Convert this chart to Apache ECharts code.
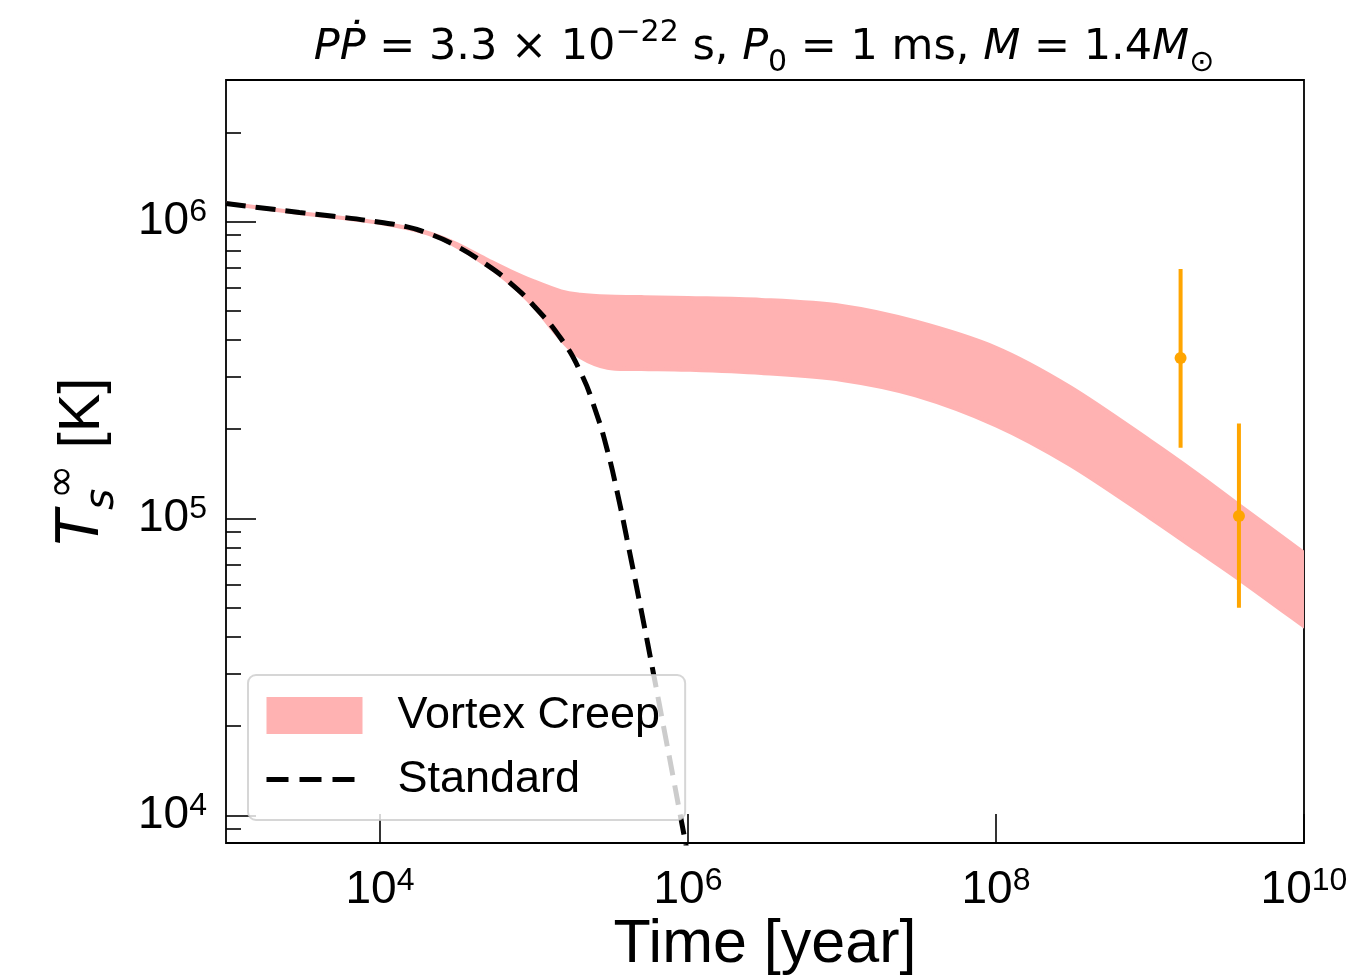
<!DOCTYPE html>
<html>
<head>
<meta charset="utf-8">
<script src="https://cdn.jsdelivr.net/npm/echarts@6.0.0/dist/echarts.min.js"></script>
<style>
  html, body { margin: 0; padding: 0; background: #fff; }
  #main { width: 1358px; height: 977px; }
</style>
</head>
<body>
<div id="main"></div>
<script>
// vortex creep band: both edges read on one time grid [year]
var bandTime  = [1e3, 3e3, 1e4, 2e4, 3e4, 5e4, 7e4, 1e5, 1.5e5, 2e5, 3e5, 5e5, 1e6, 3e6, 1e7, 3e7, 1e8, 3e8, 1e9, 2e9, 4e9, 1e10];
var bandUpper = [1.153e6, 1.07e6, 9.9e5, 9.2e5, 8.5e5, 7.43e5, 6.82e5, 6.29e5, 5.82e5, 5.67e5, 5.59e5, 5.57e5, 5.53e5, 5.45e5, 5.2e5, 4.61e5, 3.76e5, 2.78e5, 1.83e5, 1.42e5, 1.086e5, 7.65e4];
var bandLower = [1.153e6, 1.07e6, 9.9e5, 9.15e5, 8.36e5, 7.1e5, 6.2e5, 5.18e5, 4.01e5, 3.5e5, 3.22e5, 3.19e5, 3.17e5, 3.09e5, 2.93e5, 2.6e5, 2.06e5, 1.52e5, 1.006e5, 7.85e4, 6.12e4, 4.33e4];

// standard cooling curve
var stdTime = [1e3, 3e3, 5e3, 1e4, 1.5e4, 2e4, 3e4, 5e4, 7e4, 1e5, 1.5e5, 2e5, 2.5e5, 3e5, 3.5e5, 4e5, 5e5, 6e5, 7e5, 8e5, 9e5, 1e6, 1.2e6];
var stdTemp = [1.151e6, 1.074e6, 1.043e6, 9.95e5, 9.6e5, 9.18e5, 8.38e5, 7.12e5, 6.22e5, 5.2e5, 4.03e5, 3.12e5, 2.32e5, 1.69e5, 1.202e5, 8.61e4, 4.82e4, 2.96e4, 1.944e4, 1.35e4, 9.74e3, 7.32e3, 4.46e3];

// observed pulsars with error bars
var obsTime = [1.58e9, 3.78e9];
var obsTemp = [3.47e5, 1.02e5];
var obsLow  = [1.73e5, 5.0e4];
var obsHigh = [6.93e5, 2.09e5];

// tick values
var xMajorTicks = [1e4, 1e6, 1e8, 1e10];
var yMajorTicks = [1e4, 1e5, 1e6];
var yMinorTicks = [9e3, 2e4, 3e4, 4e4, 5e4, 6e4, 7e4, 8e4, 9e4, 2e5, 3e5, 4e5, 5e5, 6e5, 7e5, 8e5, 9e5, 2e6];

var bandColor = '#ffb2b2';
var obsColor = '#ffa500';
var sansFont = 'Liberation Sans';
var mathFont = 'DejaVu Sans';

function powLabel(v) {
  var e = Math.round(Math.log10(v));
  return '{b|10}{s|' + e + '}';
}

// catmull-rom through pixel points, returned as bezier segments
function curveThrough(pts) {
  var d = '';
  for (var i = 0; i < pts.length - 1; i++) {
    var p0 = pts[i - 1] || pts[i], p1 = pts[i], p2 = pts[i + 1], p3 = pts[i + 2] || p2;
    d += ' C' + (p1[0] + (p2[0] - p0[0]) / 6) + ',' + (p1[1] + (p2[1] - p0[1]) / 6) +
         ' ' + (p2[0] - (p3[0] - p1[0]) / 6) + ',' + (p2[1] - (p3[1] - p1[1]) / 6) +
         ' ' + p2[0] + ',' + p2[1];
  }
  return d;
}

var tickRich = {
  b: { fontFamily: sansFont, fontSize: 46, lineHeight: 50, color: '#000' },
  s: { fontFamily: sansFont, fontSize: 32, lineHeight: 30, verticalAlign: 'top', color: '#000' }
};

var chart = echarts.init(document.getElementById('main'));

chart.setOption({
  animation: false,
  title: {
    text: '{i|P}{i|Ṗ}{r| = 3.3 × 10}{sup|−22}{r| s, }{i|P}{sub|0}{r| = 1 ms, }{i|M}{r| = 1.4}{i|M}{sub|⊙}',
    left: 759,
    top: 13,
    textAlign: 'center',
    textStyle: {
      fontWeight: 'normal',
      rich: {
        r: { fontFamily: mathFont, fontWeight: 'normal', fontSize: 43, lineHeight: 60, color: '#000' },
        i: { fontFamily: mathFont, fontWeight: 'normal', fontStyle: 'italic', fontSize: 43, lineHeight: 60, color: '#000' },
        sup: { fontFamily: mathFont, fontWeight: 'normal', fontSize: 30, lineHeight: 34, verticalAlign: 'top', color: '#000' },
        sub: { fontFamily: mathFont, fontWeight: 'normal', fontSize: 30, lineHeight: 34, verticalAlign: 'bottom', color: '#000' }
      }
    }
  },
  legend: {
    orient: 'vertical',
    left: 248,
    top: 675,
    padding: [18, 25, 18, 16],
    itemGap: 19,
    itemWidth: 96,
    itemHeight: 37,
    selectedMode: false,
    backgroundColor: 'rgba(255,255,255,0.8)',
    borderColor: 'rgba(204,204,204,0.8)',
    borderWidth: 2,
    borderRadius: 8,
    textStyle: { fontFamily: sansFont, fontSize: 45, lineHeight: 37, color: '#000', padding: [0, 0, 0, 30] },
    data: [
      { name: 'Vortex Creep', icon: 'rect', itemStyle: { color: bandColor } },
      {
        name: 'Standard',
        itemStyle: { color: 'rgba(0,0,0,0)', opacity: 0, borderWidth: 0 },
        lineStyle: { color: '#000', width: 5, type: [22, 11] }
      }
    ]
  },
  grid: {
    left: 226, right: 54, top: 80, bottom: 134,
    show: true, borderColor: '#000', borderWidth: 1.8,
    outerBoundsMode: 'none'
  },
  xAxis: {
    type: 'log', logBase: 10, min: 1e3, max: 1e10,
    axisLine: { show: false },
    splitLine: { show: false },
    axisTick: { inside: true, length: 29, lineStyle: { color: '#000', width: 1.6 }, customValues: xMajorTicks },
    axisLabel: { customValues: xMajorTicks, formatter: powLabel, margin: 22, rich: tickRich },
    name: 'Time [year]',
    nameLocation: 'middle',
    nameGap: 72,
    nameMoveOverlap: false,
    nameTextStyle: { fontFamily: sansFont, fontSize: 61, color: '#000' }
  },
  yAxis: [
    {
      type: 'log', logBase: 10, min: 8.07e3, max: 3.0e6, position: 'left',
      axisLine: { show: false },
      splitLine: { show: false },
      axisTick: { inside: true, length: 30, lineStyle: { color: '#000', width: 1.6 }, customValues: yMajorTicks },
      axisLabel: { customValues: yMajorTicks, formatter: powLabel, margin: 19, rich: tickRich },
      name: '{t|T}{s|s}{inf|∞}{k| [K]}',
      nameLocation: 'middle',
      nameGap: 103,
      nameMoveOverlap: false,
      nameTextStyle: {
        rich: {
          t: { fontFamily: mathFont, fontStyle: 'italic', fontSize: 58, lineHeight: 80, color: '#000' },
          s: { fontFamily: mathFont, fontStyle: 'italic', fontSize: 41, lineHeight: 40, verticalAlign: 'bottom', color: '#000' },
          inf: { fontFamily: mathFont, fontSize: 41, lineHeight: 40, verticalAlign: 'top', padding: [0, 0, 0, -10], color: '#000' },
          k: { fontFamily: sansFont, fontSize: 58, lineHeight: 80, color: '#000' }
        }
      }
    },
    {
      // second axis only carries the minor ticks
      type: 'log', logBase: 10, min: 8.07e3, max: 3.0e6, position: 'left',
      axisLine: { show: false },
      splitLine: { show: false },
      axisLabel: { show: false },
      axisTick: { inside: true, length: 15, lineStyle: { color: '#000', width: 1.6 }, customValues: yMinorTicks }
    }
  ],
  series: [
    {
      type: 'custom',
      name: 'Vortex Creep',
      coordinateSystem: 'cartesian2d',
      clip: true,
      z: 2,
      itemStyle: { color: bandColor },
      data: [[bandTime[0], bandUpper[0]]],
      renderItem: function (params, api) {
        var up = [], low = [];
        for (var i = 0; i < bandTime.length; i++) {
          up.push(api.coord([bandTime[i], bandUpper[i]]));
        }
        for (var j = bandTime.length - 1; j >= 0; j--) {
          low.push(api.coord([bandTime[j], bandLower[j]]));
        }
        var d = 'M' + up[0][0] + ',' + up[0][1] + curveThrough(up) +
                ' L' + low[0][0] + ',' + low[0][1] + curveThrough(low) + ' Z';
        return {
          type: 'path',
          shape: { pathData: d },
          style: { fill: bandColor, stroke: bandColor, lineWidth: 4, lineJoin: 'round' }
        };
      }
    },
    {
      type: 'line',
      name: 'Standard',
      data: stdTime.map(function (t, i) { return [t, stdTemp[i]]; }),
      symbol: 'none',
      smooth: 0.5,
      clip: true,
      z: 3,
      itemStyle: { color: '#000' },
      lineStyle: { color: '#000', width: 5, type: [20, 10] }
    },
    {
      type: 'custom',
      name: 'obsBars',
      coordinateSystem: 'cartesian2d',
      z: 4,
      data: obsTime.map(function (t, i) { return [t, obsLow[i], obsHigh[i]]; }),
      encode: { x: 0, y: [1, 2] },
      renderItem: function (params, api) {
        var lo = api.coord([api.value(0), api.value(1)]);
        var hi = api.coord([api.value(0), api.value(2)]);
        return {
          type: 'line',
          shape: { x1: lo[0], y1: lo[1], x2: hi[0], y2: hi[1] },
          style: { stroke: obsColor, lineWidth: 4 }
        };
      }
    },
    {
      type: 'scatter',
      name: 'obs',
      z: 5,
      symbolSize: 12,
      itemStyle: { color: obsColor, opacity: 1 },
      data: obsTime.map(function (t, i) { return [t, obsTemp[i]]; })
    }
  ]
});
</script>
</body>
</html>
